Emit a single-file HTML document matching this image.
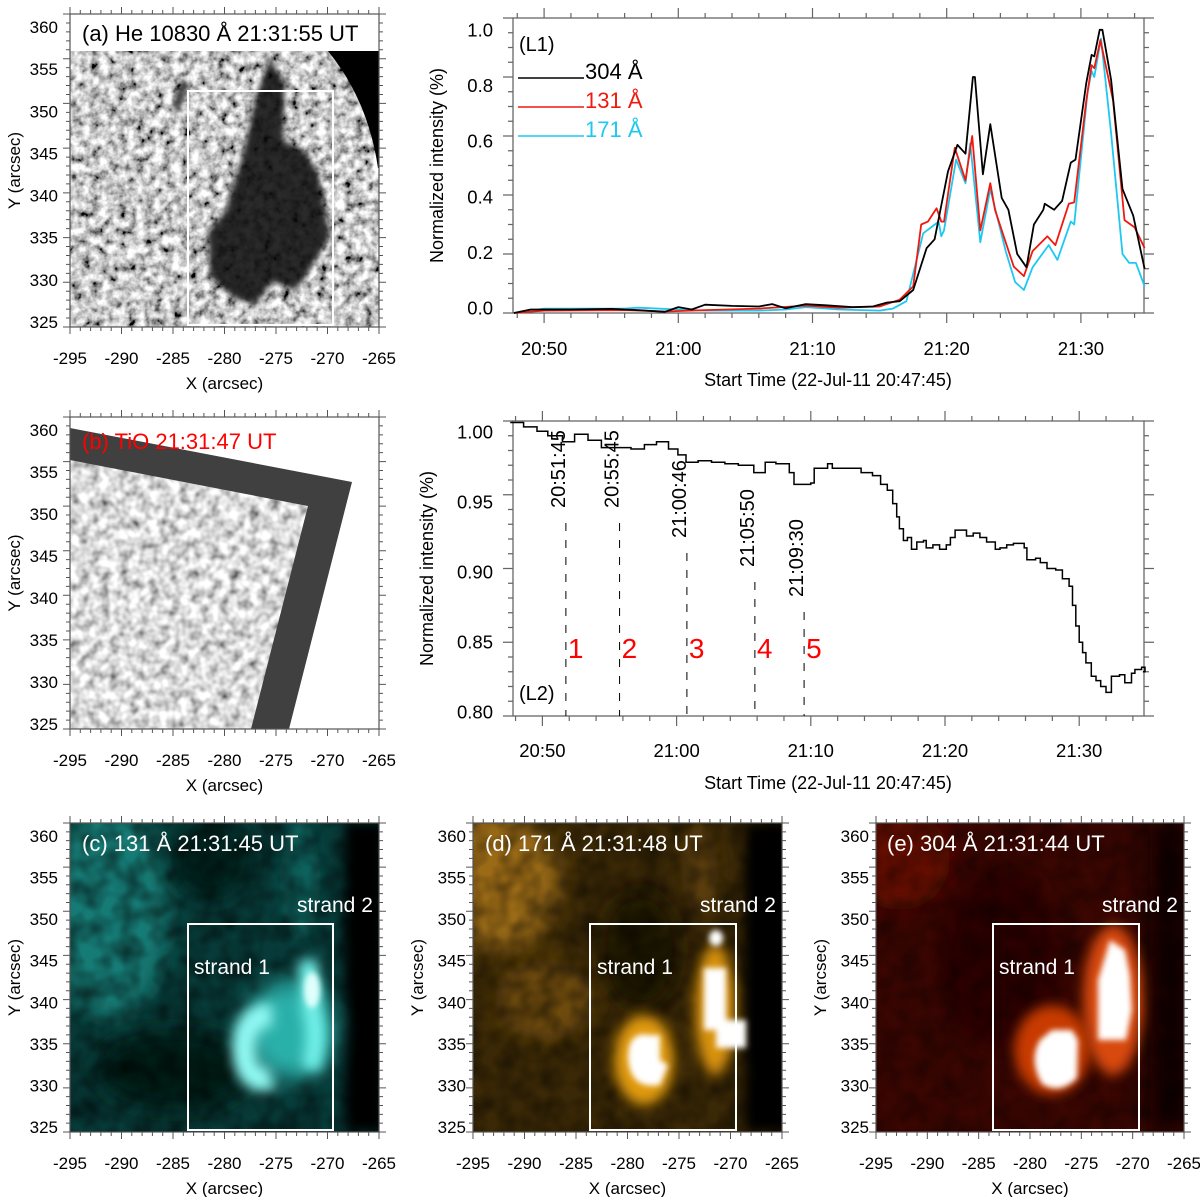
<!DOCTYPE html>
<html><head><meta charset="utf-8"><style>
html,body{margin:0;padding:0;background:#fff;}
svg{display:block;font-family:"Liberation Sans",sans-serif;}
</style></head><body>
<svg id="fig" width="1200" height="1197" viewBox="0 0 1200 1197" xmlns="http://www.w3.org/2000/svg">
<defs>
  <filter id="granA" x="0" y="0" width="100%" height="100%">
    <feTurbulence type="fractalNoise" baseFrequency="0.11" numOctaves="3" seed="4"/>
    <feColorMatrix type="matrix" values="1.9 0 0 0 -0.38  1.9 0 0 0 -0.38  1.9 0 0 0 -0.38  0 0 0 0 1"/>
  </filter>
  <filter id="granB" x="0" y="0" width="100%" height="100%">
    <feTurbulence type="fractalNoise" baseFrequency="0.1" numOctaves="2" seed="9"/>
    <feColorMatrix type="matrix" values="1.5 0 0 0 -0.05  1.5 0 0 0 -0.05  1.5 0 0 0 -0.05  0 0 0 0 1"/>
  </filter>
  <filter id="noiseDark" x="0" y="0" width="100%" height="100%">
    <feTurbulence type="fractalNoise" baseFrequency="0.05" numOctaves="2" seed="2"/>
    <feColorMatrix type="matrix" values="0 0 0 0 0  0 0 0 0 0  0 0 0 0 0  1.4 0 0 0 -0.45"/>
  </filter>
  <filter id="blur3" filterUnits="userSpaceOnUse" x="0" y="0" width="1200" height="1197"><feGaussianBlur stdDeviation="3"/></filter>
  <filter id="blur6" filterUnits="userSpaceOnUse" x="0" y="0" width="1200" height="1197"><feGaussianBlur stdDeviation="6"/></filter>
  <filter id="blur10" filterUnits="userSpaceOnUse" x="0" y="0" width="1200" height="1197"><feGaussianBlur stdDeviation="12"/></filter>
  <clipPath id="clipA"><rect x="70" y="14" width="309" height="313"/></clipPath>
  <clipPath id="clipB"><rect x="70" y="417" width="309" height="312"/></clipPath>
  <clipPath id="clipC"><rect x="70" y="823" width="309" height="309"/></clipPath>
  <clipPath id="clipD"><rect x="473" y="823" width="309" height="309"/></clipPath>
  <clipPath id="clipE"><rect x="876" y="823" width="308" height="309"/></clipPath>
</defs>

<!-- Panel a image -->
<g clip-path="url(#clipA)">
  <rect x="70" y="51" width="309" height="276" filter="url(#granA)"/>
  <path d="M 258 90 L 270 58 L 285 84 L 283 140 L 305 152 L 318 172 L 330 236 L 312 266 L 296 290 L 272 282 L 256 304 L 238 300 L 222 288 L 210 276 L 208 232 L 225 212 L 240 165 L 252 115 Z" fill="#0a0a0a" opacity="0.88" filter="url(#blur3)"/>
  <path d="M 182 80 L 188 84 L 178 112 L 173 108 Z" fill="#222" filter="url(#blur3)"/>
  <path d="M 328 51 Q 368 100 378 168 L 379 168 L 379 51 Z" fill="#000"/>
  <rect x="188" y="91" width="145" height="234" fill="none" stroke="#fff" stroke-width="2"/>
</g>
<text x="82" y="41" font-size="22" fill="#000">(a) He 10830 Å 21:31:55 UT</text>

<!-- Panel b image -->
<g clip-path="url(#clipB)">
  <polygon points="70,428 352,482 289,729 70,729" fill="#404040"/>
  <clipPath id="clipBin"><polygon points="70,460 308,506 251,729 70,729"/></clipPath>
  <rect x="70" y="450" width="250" height="280" filter="url(#granB)" clip-path="url(#clipBin)"/>
</g>
<text x="82" y="449" font-size="22" fill="#f00">(b) TiO 21:31:47 UT</text>

<!-- Panel c image -->
<g clip-path="url(#clipC)">
  <rect x="70" y="823" width="309" height="309" fill="#073a38"/>
  <ellipse cx="110" cy="910" rx="60" ry="110" fill="#157a75" filter="url(#blur10)"/>
  <ellipse cx="210" cy="860" rx="40" ry="40" fill="#02201f" filter="url(#blur10)"/>
  <ellipse cx="175" cy="1070" rx="80" ry="40" fill="#021a19" filter="url(#blur10)"/>
  <rect x="345" y="823" width="40" height="309" fill="#000" filter="url(#blur6)"/>
  <ellipse cx="300" cy="880" rx="20" ry="60" fill="#11605c" filter="url(#blur6)"/>
  <rect x="70" y="823" width="309" height="309" filter="url(#noiseDark)" opacity="0.7"/>
  <ellipse cx="290" cy="1030" rx="45" ry="50" fill="#2bb0aa" filter="url(#blur10)"/>
  <path d="M 272 1015 Q 244 1015 244 1050 Q 246 1085 272 1078" fill="none" stroke="#8ff8f2" stroke-width="24" filter="url(#blur6)"/>
  <path d="M 308 960 L 312 1010 Q 320 1040 310 1070" fill="none" stroke="#6ff0e8" stroke-width="20" filter="url(#blur6)"/>
  <ellipse cx="312" cy="990" rx="8" ry="18" fill="#e0fffc" filter="url(#blur3)"/>
  <rect x="188" y="924" width="145" height="206" fill="none" stroke="#fff" stroke-width="2"/>
</g>
<text x="82" y="851" font-size="22" fill="#fff">(c) 131 Å 21:31:45 UT</text>
<text x="297" y="912" font-size="21" fill="#fff">strand 2</text>
<text x="194" y="974" font-size="21" fill="#fff">strand 1</text>

<!-- Panel d image -->
<g clip-path="url(#clipD)">
  <rect x="473" y="823" width="309" height="309" fill="#3a2806"/>
  <ellipse cx="500" cy="880" rx="60" ry="70" fill="#9a6a12" filter="url(#blur10)"/>
  <ellipse cx="545" cy="1000" rx="50" ry="40" fill="#6e4c0c" filter="url(#blur10)"/>
  <ellipse cx="640" cy="950" rx="40" ry="60" fill="#1f1503" filter="url(#blur10)"/>
  <rect x="745" y="823" width="50" height="309" fill="#000" filter="url(#blur6)"/>
  <ellipse cx="700" cy="870" rx="18" ry="45" fill="#5a3e0a" filter="url(#blur6)"/>
  <rect x="473" y="823" width="309" height="309" filter="url(#noiseDark)" opacity="0.6"/>
  <ellipse cx="644" cy="1060" rx="30" ry="45" fill="#e09a10" filter="url(#blur6)"/>
  <ellipse cx="715" cy="1010" rx="20" ry="65" fill="#d89210" filter="url(#blur6)"/>
  <path d="M 650 1035 Q 628 1030 628 1058 Q 630 1090 660 1085 L 668 1065 L 660 1060 L 660 1035 Z" fill="#fff" filter="url(#blur3)"/>
  <rect x="704" y="968" width="22" height="62" fill="#fff" filter="url(#blur3)"/>
  <rect x="716" y="1020" width="30" height="28" fill="#fff" filter="url(#blur3)"/>
  <ellipse cx="716" cy="938" rx="7" ry="8" fill="#fff" filter="url(#blur3)"/>
  <rect x="590" y="924" width="146" height="206" fill="none" stroke="#fff" stroke-width="2"/>
</g>
<text x="485" y="851" font-size="22" fill="#fff">(d) 171 Å 21:31:48 UT</text>
<text x="700" y="912" font-size="21" fill="#fff">strand 2</text>
<text x="597" y="974" font-size="21" fill="#fff">strand 1</text>

<!-- Panel e image -->
<g clip-path="url(#clipE)">
  <rect x="876" y="823" width="308" height="309" fill="#3a0602"/>
  <ellipse cx="900" cy="860" rx="50" ry="50" fill="#640c04" filter="url(#blur10)"/>
  <ellipse cx="1000" cy="960" rx="60" ry="90" fill="#2a0401" filter="url(#blur10)"/>
  <rect x="1150" y="823" width="40" height="309" fill="#0a0000" filter="url(#blur10)"/>
  <rect x="876" y="823" width="308" height="309" filter="url(#noiseDark)" opacity="0.5"/>
  <ellipse cx="1052" cy="1050" rx="38" ry="45" fill="#c83a06" filter="url(#blur6)"/>
  <ellipse cx="1113" cy="1000" rx="30" ry="75" fill="#d84a08" filter="url(#blur6)"/>
  <path d="M 1052 1030 L 1072 1030 L 1078 1040 L 1077 1078 Q 1060 1095 1042 1084 Q 1028 1060 1040 1040 Z" fill="#fff" filter="url(#blur3)"/>
  <path d="M 1110 940 L 1125 950 L 1130 975 L 1132 1010 L 1126 1040 L 1098 1040 L 1098 980 Z" fill="#fff" filter="url(#blur3)"/>
  <rect x="993" y="924" width="146" height="206" fill="none" stroke="#fff" stroke-width="2"/>
</g>
<text x="887" y="851" font-size="22" fill="#fff">(e) 304 Å 21:31:44 UT</text>
<text x="1102" y="912" font-size="21" fill="#fff">strand 2</text>
<text x="999" y="974" font-size="21" fill="#fff">strand 1</text>

<g id="axes"></g>
<g id="charts"></g>
</svg>
<script>
// ---------- L1 data (time in minutes after 20:00) ----------
const t304 = [47.75,49,52,55,57,59,60,61,62,64,66,67,68,69.5,71,73,74.5,75.5,76.5,77.5,78.5,79.1,80.1,80.8,81.4,81.95,82.1,82.7,83.25,84.1,84.6,85.25,85.95,86.5,87.2,87.3,88,88.6,89.25,89.6,90.4,90.8,91,91.4,91.6,92.25,93.1,93.9,94.75];
const v304 = [0,0.012,0.012,0.014,0.01,0.004,0.02,0.012,0.028,0.024,0.022,0.03,0.016,0.03,0.026,0.02,0.022,0.035,0.04,0.078,0.22,0.25,0.48,0.57,0.54,0.80,0.80,0.47,0.64,0.39,0.35,0.20,0.155,0.30,0.35,0.37,0.35,0.38,0.51,0.52,0.78,0.875,0.87,0.96,0.96,0.79,0.42,0.33,0.15];
const t131 = [47.75,50,56,59,62,66,69.5,72,75,76.5,77.5,78.1,78.6,79.25,79.6,79.8,80.6,81.4,81.9,82.5,83.25,83.6,84.25,85,85.75,86.4,87.5,88.1,89.1,89.5,90.4,90.8,91,91.45,92.4,93.25,94,94.75];
const v131 = [0,0.008,0.01,0.005,0.01,0.015,0.025,0.018,0.022,0.045,0.09,0.30,0.31,0.355,0.31,0.31,0.56,0.45,0.60,0.28,0.44,0.35,0.26,0.157,0.125,0.21,0.26,0.23,0.37,0.375,0.72,0.84,0.83,0.925,0.72,0.315,0.29,0.22];
const t171 = [47.75,50,56,57,60,62,66,68,69.5,72,75,76,77,78.25,79.4,79.6,79.8,80.7,81.4,81.75,82.5,83.25,84.4,85.1,85.75,86.4,87.6,88.25,89.25,89.5,90.5,90.8,91,91.5,92.25,93.1,93.6,94.1,94.75];
const v171 = [0,0.015,0.015,0.018,0.012,0.008,0.008,0.012,0.02,0.012,0.008,0.015,0.04,0.27,0.31,0.26,0.28,0.52,0.44,0.575,0.24,0.42,0.21,0.105,0.078,0.155,0.23,0.18,0.31,0.30,0.75,0.82,0.80,0.93,0.61,0.20,0.17,0.17,0.09];
const l1Ticks = [0,0.2,0.4,0.6,0.8,1.0];
const l1TickLabels = ["0.0","0.2","0.4","0.6","0.8","1.0"];
const timeTicks = [50,60,70,80,90];
const timeTickLabels = ["20:50","21:00","21:10","21:20","21:30"];
// ---------- L2 data ----------
const tL2 = [47.6,48.6,49.6,50.4,51.5,52.4,53.4,54.4,55.6,56.6,57.6,58.5,59.4,60.1,60.7,61.6,62.6,63.6,64.6,65.75,66.6,67.4,68.4,68.75,70,70.25,71.25,71.6,72.1,73.3,73.75,74.6,75.2,75.7,76.1,76.4,76.6,76.9,77.2,77.5,77.9,78.4,78.6,79.1,79.6,80.1,80.4,80.75,81.25,81.6,82.1,82.6,83.1,83.75,84.1,84.6,85.1,85.9,86.1,86.75,87.1,87.6,88.25,88.75,89.25,89.5,89.75,90,90.25,90.5,90.9,91.25,91.6,92,92.4,93,93.4,93.9,94.15,94.65,94.9];
const vL2 = [0.999,0.996,0.993,0.990,0.986,0.991,0.987,0.982,0.982,0.981,0.984,0.986,0.981,0.977,0.972,0.973,0.972,0.971,0.970,0.965,0.972,0.971,0.965,0.957,0.958,0.968,0.971,0.968,0.968,0.968,0.965,0.963,0.957,0.953,0.944,0.935,0.927,0.919,0.921,0.913,0.918,0.919,0.914,0.916,0.913,0.916,0.921,0.926,0.926,0.922,0.924,0.921,0.918,0.913,0.914,0.916,0.917,0.914,0.906,0.907,0.904,0.900,0.899,0.893,0.888,0.875,0.861,0.850,0.843,0.836,0.827,0.824,0.820,0.816,0.827,0.828,0.8225,0.829,0.8315,0.833,0.830];
const l2Ticks = [0.80,0.85,0.90,0.95,1.00];
const l2TickLabels = ["0.80","0.85","0.90","0.95","1.00"];
const eventTimes = [51.75,55.75,60.767,65.833,69.5];
const eventLabels = ["20:51:45","20:55:45","21:00:46","21:05:50","21:09:30"];
const eventNumbers = ["1","2","3","4","5"];
const eventLabelBottom = [508,508,538,567,597];

const NS = "http://www.w3.org/2000/svg";
function mk(tag, attrs, parent, text){
  const e = document.createElementNS(NS, tag);
  for (const k in attrs) e.setAttribute(k, attrs[k]);
  if (text !== undefined) e.textContent = text;
  parent.appendChild(e);
  return e;
}
const axesG = document.getElementById('axes');
const chartsG = document.getElementById('charts');

// ---------- image panel axes ----------
function imgAxes(name, x0, y0, x1, y1, ylabOff, ytitleX){
  const g = mk('g', {}, axesG);
  
  
  const fr = mk('rect', {x:x0, y:y0, width:x1-x0, height:y1-y0, fill:'none', stroke:'#555', 'stroke-width':1.2}, g);
  
  
  let d = '';
  for (let i=0;i<=30;i++){
    const x = x0 + (x1-x0)*i/30, L = (i%5===0)?7:4;
    d += `M${x} ${y1}v${L}M${x} ${y0}v${-L}`;
  }
  for (let i=0;i<=35;i++){
    const y = y1 - (y1-y0)*i/35, L = (i%5===0)?7:4;
    d += `M${x0} ${y}h${-L}M${x1} ${y}h${L}`;
  }
  mk('path', {d:d, stroke:'#555', 'stroke-width':1, fill:'none'}, g);
  for (let i=0;i<=6;i++){
    const x = x0 + (x1-x0)*i/6;
    const t = mk('text', {x:x, y:y1+37, 'font-size':17, 'text-anchor':'middle'}, g, String(-295+5*i));
    
    
  }
  for (let i=0;i<=7;i++){
    const yc = (y1-5) - ((y1-5)-(y0+13))*i/7;
    const t = mk('text', {x:x0-ylabOff, y:yc+6, 'font-size':17, 'text-anchor':'end'}, g, String(325+5*i));
    
    
  }
  const xt = mk('text', {x:(x0+x1)/2, y:y1+62, 'font-size':17, 'text-anchor':'middle'}, g, 'X (arcsec)');
  
  
  const yc = (y0+y1)/2;
  const yt = mk('text', {x:ytitleX, y:yc, 'font-size':17, 'text-anchor':'middle', transform:`rotate(-90 ${ytitleX} ${yc})`}, g, 'Y (arcsec)');
  
  
}
imgAxes('panel-a', 70, 14, 379, 327, 12, 20);
imgAxes('panel-b', 70, 417, 379, 729, 12, 20);
imgAxes('panel-c', 70, 823, 379, 1132, 12, 20);
imgAxes('panel-d', 473, 823, 782, 1132, 7, 423);
imgAxes('panel-e', 876, 823, 1184, 1132, 7, 826);

// ---------- chart axes helpers ----------
function chartFrame(name, x0, y0, x1, y1, xs, ys, yMinorStep, yMin, yMax, ticks, tickLabels, labTop, labBot, xLabY, titleY, ytX){
  const g = mk('g', {}, chartsG);
  
  
  const fr = mk('rect', {x:x0, y:y0, width:x1-x0, height:y1-y0, fill:'none', stroke:'#666', 'stroke-width':1.3}, g);
  
  
  let d='';
  for (let t=48; t<=94; t+=2){
    const x = xs(t), L = (t%10===0)?10:5;
    d += `M${x} ${y1}v${L}M${x} ${y0}v${-L}`;
  }
  const n = Math.round((yMax-yMin)/yMinorStep);
  for (let i=0;i<=n;i++){
    const v = yMin + i*yMinorStep, y = ys(v);
    const major = ticks.some(tv => Math.abs(tv-v) < 1e-6);
    const L = major?10:5;
    d += `M${x0} ${y}h${-L}M${x1} ${y}h${L}`;
  }
  mk('path', {d:d, stroke:'#666', 'stroke-width':1.2, fill:'none'}, g);
  ticks.forEach((v,i)=>{
    const frac = (v-yMin)/(yMax-yMin);
    const yc = labBot + (labTop-labBot)*frac;
    const t = mk('text', {x:x0-20, y:yc+6.5, 'font-size':18.5, 'text-anchor':'end'}, g, tickLabels[i]);
    
    
  });
  timeTicks.forEach((tv,i)=>{
    const t = mk('text', {x:xs(tv), y:xLabY, 'font-size':18.5, 'text-anchor':'middle'}, g, timeTickLabels[i]);
    
    
  });
  const xt = mk('text', {x:828, y:titleY, 'font-size':18, 'text-anchor':'middle'}, g, 'Start Time (22-Jul-11 20:47:45)');
  
  
  const yc = (y0+y1)/2;
  const yt = mk('text', {x:ytX, y:yc, 'font-size':18, 'text-anchor':'middle', transform:`rotate(-90 ${ytX} ${yc})`}, g, 'Normalized intensity (%)');
  
  
}

// ---------- L1 ----------
const L1 = {x0:513, x1:1144, y0:18, y1:313};
const xs1 = t => 946.7 + (t-80)*13.42;
const ys1 = v => L1.y1 - v*(L1.y1-L1.y0);
chartFrame('chart-l1', L1.x0, L1.y0, L1.x1, L1.y1, xs1, ys1, 0.05, 0, 1, l1Ticks, l1TickLabels, 30, 308, 355, 386, 443);
function line(ts, vs, color, name){
  const n = Math.min(ts.length, vs.length);
  let d='';
  for (let i=0;i<n;i++) d += (i?'L':'M') + xs1(ts[i]).toFixed(1) + ' ' + ys1(vs[i]).toFixed(1);
  const p = mk('path', {d:d, fill:'none', stroke:color, 'stroke-width':1.8, 'stroke-linejoin':'round'}, chartsG);
  
  
}
line(t171, v171, '#1ec8f0', 'series-171');
line(t131, v131, '#f0190f', 'series-131');
line(t304, v304, '#000', 'series-304');
const lg = mk('g', {}, chartsG);


const l1lab = mk('text', {x:519, y:51, 'font-size':20}, lg, '(L1)');


[['304 Å','#000',78],['131 Å','#f0190f',107],['171 Å','#1ec8f0',136]].forEach(e=>{
  const ln = mk('line', {x1:518, x2:584, y1:e[2], y2:e[2], stroke:e[1], 'stroke-width':1.6}, lg);
  
  
  const tx = mk('text', {x:585, y:e[2]+1, 'font-size':22, fill:e[1]}, lg, e[0]);
  
  
});

// ---------- L2 ----------
const L2 = {x0:513, x1:1144, y0:421, y1:716};
const xs2 = t => 945 + (t-80)*13.42;
const ys2 = v => L2.y1 - (v-0.8)*(L2.y1-L2.y0)/0.2;
chartFrame('chart-l2', L2.x0, L2.y0, L2.x1, L2.y1, xs2, ys2, 0.01, 0.8, 1.0, l2Ticks, l2TickLabels, 432, 712, 757, 789, 433);
(function(){
  const n = Math.min(tL2.length, vL2.length);
  let d = `M${xs2(tL2[0]).toFixed(1)} ${ys2(vL2[0]).toFixed(1)}`;
  for (let i=1;i<n;i++){
    d += `H${xs2(tL2[i]).toFixed(1)}V${ys2(vL2[i]).toFixed(1)}`;
  }
  d += `H${xs2(94.75).toFixed(1)}`;
  const p = mk('path', {d:d, fill:'none', stroke:'#000', 'stroke-width':1.5}, chartsG);
  
  
})();
eventTimes.forEach((tv,i)=>{
  const x = xs2(tv);
  const dl = mk('line', {x1:x, x2:x, y1:eventLabelBottom[i]+15, y2:L2.y1, stroke:'#000', 'stroke-width':1, 'stroke-dasharray':'8 9'}, chartsG);
  
  
  const tx = x - 1, ty = eventLabelBottom[i];
  const lb = mk('text', {x:tx, y:ty, 'font-size':20, transform:`rotate(-90 ${tx} ${ty})`}, chartsG, eventLabels[i]);
  
  
  const nm = mk('text', {x:x+2, y:658, 'font-size':28, fill:'#f00'}, chartsG, eventNumbers[i]);
  
  
});
const l2lab = mk('text', {x:519, y:700, 'font-size':20}, chartsG, '(L2)');


</script>
</body></html>
